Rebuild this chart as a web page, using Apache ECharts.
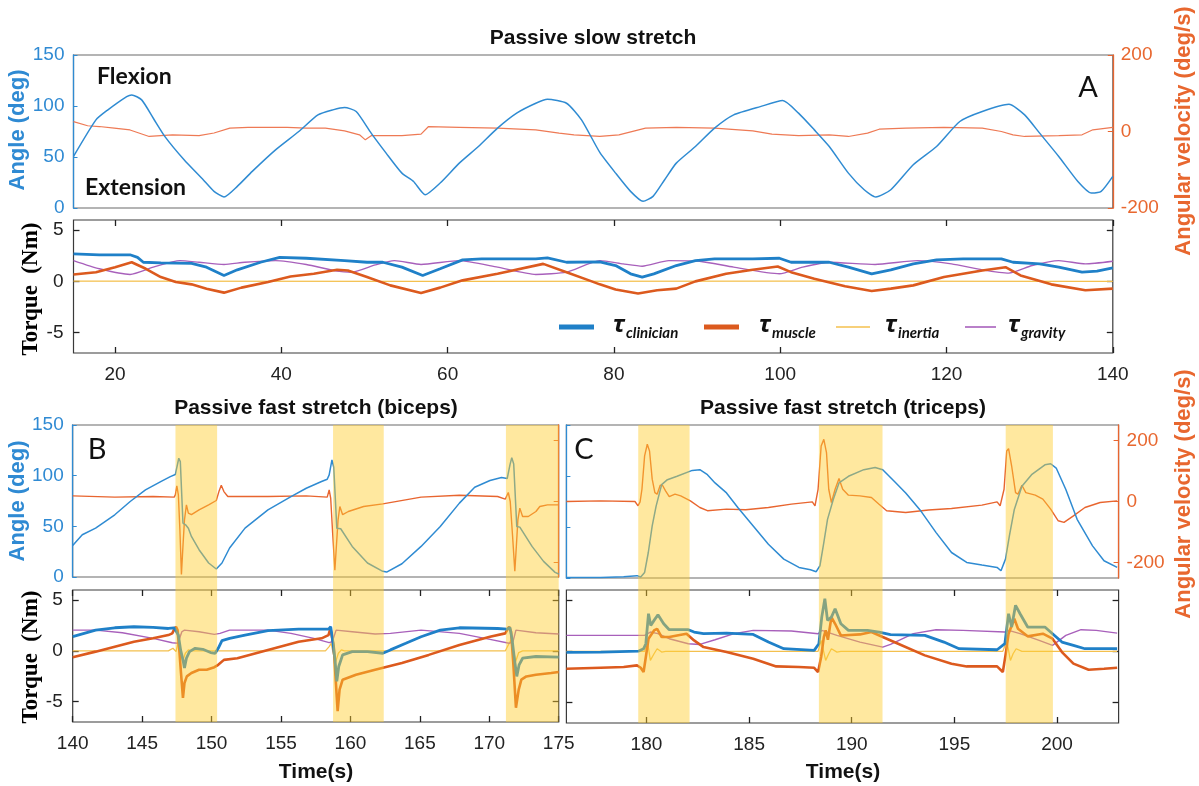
<!DOCTYPE html>
<html>
<head>
<meta charset="utf-8">
<style>
  html, body { margin: 0; padding: 0; background: #fff; }
  #chart { width: 1199px; height: 786px; }
</style>
<script src="https://cdn.jsdelivr.net/npm/echarts@6/dist/echarts.min.js"></script>
</head>
<body>
<div id="chart"></div>
<script>
// ---------- Passive slow stretch (t = 15..140 s) ----------
const slowAngle = [[15,50.5],[17.7,86.4],[19.1,96],[21.4,109.2],[22,110.9],[23.2,106],[24.6,88],[26,70],[28.3,47.3],[30.6,27.7],[31.9,16.3],[33.1,10.8],[34.7,21.2],[36.5,35.9],[39.3,57],[42.1,75],[44.4,91.3],[46.2,96.2],[47.6,98.5],[49,94.6],[50.8,73.4],[52.6,53.8],[54.5,34.2],[55.9,26],[57.3,13],[59.1,24.5],[61.4,44],[63.7,60.3],[66,78.3],[68.3,93],[70.6,102.7],[72,106.6],[74.3,102.7],[76.1,86.4],[78.3,54.5],[80.2,34.2],[82,16.3],[83.5,6.5],[84.7,11.4],[86.1,27.7],[87.5,44],[89.8,60.3],[92.1,78.3],[94.4,91.3],[97.6,99.4],[100.3,105.3],[102.2,93],[104.1,76.6],[105.9,60.3],[108.2,34.2],[110.1,17.9],[111.5,10.8],[113.3,17.9],[116,42.4],[118.8,60.3],[121.6,84.8],[124.3,94.6],[127.5,101.7],[129.4,91.3],[131.2,73.4],[133.5,50.5],[135.8,26],[137.4,14.7],[138.6,16.3],[140,31]];
const slowVelocity = [[15,26],[16.7,15],[18.1,13],[19.9,8.7],[21.8,4],[24.1,-13],[26.9,-8.7],[30.1,-11],[31.9,-4],[33.8,8.7],[36,11],[40.7,11],[43,8.7],[45.3,8.7],[47.6,1.7],[49.4,-8.7],[50.1,-21.8],[50.8,-11],[54.5,-11],[56.8,-7],[57.7,13],[61.4,11],[66,8.7],[70.6,4.4],[73.4,-4.4],[75.2,-8.7],[78.3,-13],[80.6,-8.7],[83.8,8.7],[87.5,11],[92.1,8.7],[96.7,1.7],[99,-7],[102.2,-11],[105.9,-8.7],[108.2,-13],[110.5,-4.4],[111.9,6],[115.1,8.7],[119.7,11],[124.3,8.7],[126.6,0],[128,-8.7],[129.4,-13],[133.5,-11],[136.3,-8.7],[137.6,4.4],[140,11]];
const slowClinician = [[15,2.68],[18.1,2.6],[21.8,2.6],[22.7,2.35],[23.4,1.87],[25.5,1.8],[29.2,1.77],[31,1.39],[33.1,0.58],[34.7,1.13],[37.5,1.87],[39.8,2.35],[43,2.26],[47.6,2.03],[50.3,1.87],[52.2,1.87],[54.5,1.39],[57,0.58],[59.1,1.23],[61.8,2.1],[64.1,2.2],[70.6,2.2],[72,2.29],[74.3,1.87],[78.3,1.9],[80.2,1.55],[82,0.74],[83.4,0.42],[84.8,0.74],[87.5,1.55],[89.8,2.03],[92.1,2.2],[96.7,2.2],[99.9,2.26],[101.3,1.87],[105.9,1.87],[108.2,1.39],[111,0.74],[113.3,1.13],[116,1.71],[118.8,2.1],[122,2.2],[126.6,2.2],[128,1.87],[131.2,1.71],[133.5,1.39],[136.3,0.9],[138.1,1.0],[140,1.32]];
const slowMuscle = [[15,0.68],[17.7,0.9],[20,1.39],[22,1.87],[23.7,1.23],[25.5,0.42],[27.3,-0.06],[29.2,-0.29],[31,-0.71],[33.1,-1.1],[35.2,-0.61],[38.4,-0.06],[41.1,0.48],[43.9,0.74],[46.7,1.13],[48,1.06],[50.3,0.42],[53.1,-0.39],[56.8,-1.13],[59.1,-0.61],[61.8,0.1],[66,0.74],[71.5,1.71],[74.3,0.9],[77,0.1],[78.3,-0.29],[80.2,-0.8],[82.9,-1.19],[85.2,-0.87],[87.5,-0.71],[89.8,0],[93.5,0.74],[96.7,1.13],[99.7,1.45],[101.3,0.9],[104.1,0.26],[107.8,-0.48],[111,-0.94],[113.3,-0.71],[116,-0.39],[119.7,0.42],[124.3,1.06],[127.1,1.39],[128.9,0.58],[132.6,-0.29],[136.7,-0.87],[140,-0.71]];
const slowInertia = [[15,0.02],[60,0],[100,0.02],[140,0]];
const slowGravity = [[15,2.03],[18.1,1.23],[21.8,0.68],[24.6,1.39],[27.8,2.03],[30.1,1.87],[33.1,1.65],[35.6,1.87],[39.3,2.03],[43,1.65],[46.7,1.0],[48.5,0.9],[51.3,1.61],[53.6,2.03],[56.8,1.65],[61.4,2.03],[66,1.39],[70.6,0.68],[74.3,0.9],[78.3,2.03],[81.1,1.71],[83.4,1.48],[86.6,2.03],[90.3,1.97],[94.4,1.39],[99.9,0.74],[102.7,1.39],[105.9,1.87],[111.4,1.65],[116.5,2.03],[120.6,1.71],[124.3,1.13],[127.5,0.81],[130.3,1.55],[133.5,2.03],[136.7,1.71],[140,1.97]];

// ---------- Passive fast stretch, biceps (t = 140..175 s) ----------
const bicepsAngle = [[140,31.2],[140.69,41.7],[141.65,48.2],[143.03,61.4],[144.14,74.5],[145.24,86],[146.34,94.2],[147.03,99.1],[147.39,101.1],[147.5,101.7],[147.64,117.2],[147.75,113.9],[147.94,53.2],[148.13,51.5],[148.33,48.2],[148.55,40],[149.1,26.9],[149.79,13.8],[150.34,7.9],[150.75,13.8],[151.3,28.6],[152.41,48.2],[154.06,66.3],[155.72,79.4],[156.82,87.6],[157.92,94.2],[158.33,96.5],[158.47,100.8],[158.67,115.5],[158.8,108.3],[159.02,48.2],[159.3,47.6],[160.13,30.2],[161.23,13.8],[162.33,5.6],[162.61,4.9],[163.71,13.1],[165.09,30.2],[166.47,49.9],[167.85,72.9],[168.95,88.6],[170.05,95.2],[170.88,98.1],[171.29,97.1],[171.49,110.6],[171.62,117.8],[171.76,111.6],[171.98,49.9],[172.2,49.2],[173.08,30.2],[173.91,15.4],[174.74,4.6],[175,3]];
const bicepsVelocity = [[140,17],[143.03,12.6],[145.79,14.8],[147.31,12.6],[147.39,20],[147.5,49.8],[147.61,20],[147.72,-94.6],[147.83,-242],[147.94,-149],[148.05,-62],[148.19,-12.6],[148.33,-40],[148.55,-45],[149.1,-29],[149.79,-12.6],[150.34,1.6],[150.53,31],[150.7,52],[150.89,31],[151.17,14.8],[154.06,14.8],[156.82,17],[158.33,12.6],[158.47,36.6],[158.58,9.3],[158.72,-105],[158.88,-228],[158.99,-149],[159.11,-62],[159.24,-18],[159.44,-45],[159.85,-34.5],[160.95,-18],[162.33,-9.3],[165.09,12.6],[167.85,19],[170.6,14.8],[171.15,6],[171.37,28],[171.51,-1.6],[171.68,-117],[171.84,-231],[171.95,-149],[172.06,-62],[172.2,-23.5],[172.4,-51],[172.81,-51],[173.36,-34.5],[173.64,-18],[174.19,-12.6],[175,-12.6]];
const bicepsClinician = [[140,1.4],[141.65,2.05],[143.03,2.28],[144.41,2.38],[145.79,2.31],[146.89,2.21],[147.31,2.28],[147.44,2.44],[147.61,1.56],[147.77,0.1],[147.94,-0.88],[148.05,-1.69],[148.19,-0.72],[148.41,-0.07],[148.82,0.26],[149.37,0.16],[149.93,-0.16],[150.26,-0.23],[150.48,0.26],[150.75,1.01],[151.3,1.24],[152.41,1.56],[154.06,1.99],[156.27,2.15],[158.42,2.15],[158.58,2.38],[158.75,0.75],[158.89,-0.88],[159.02,-3.0],[159.16,-1.53],[159.44,-0.39],[160.13,-0.07],[161.23,-0.07],[162.33,-0.23],[162.88,0.1],[163.99,0.75],[165.09,1.4],[166.47,2.05],[167.85,2.28],[170.6,2.21],[171.29,2.15],[171.49,2.31],[171.65,1.07],[171.82,-0.88],[171.98,-2.51],[172.15,-1.37],[172.4,-0.72],[173.36,-0.55],[175,-0.62]];
const bicepsMuscle = [[140,-0.62],[141.65,-0.07],[143.03,0.42],[144.41,0.91],[145.79,1.24],[146.89,1.56],[147.17,1.73],[147.31,2.12],[147.44,2.38],[147.55,2.05],[147.66,0.42],[147.8,-2.18],[147.94,-4.63],[148.05,-3.16],[148.22,-2.51],[148.55,-2.18],[149.1,-1.86],[149.65,-1.86],[150.2,-1.6],[150.48,-1.37],[150.89,-0.88],[151.86,-0.72],[154.06,0.1],[156.27,0.91],[157.92,1.24],[158.42,1.56],[158.56,2.21],[158.67,2.38],[158.8,0.42],[158.94,-2.83],[159.08,-5.93],[159.22,-3.81],[159.44,-2.83],[160.4,-2.35],[161.78,-1.86],[163.71,-1.2],[165.64,-0.39],[167.85,0.59],[170.05,1.4],[171.15,1.73],[171.32,2.12],[171.43,2.38],[171.57,1.89],[171.73,-1.2],[171.92,-5.6],[172.12,-3.81],[172.31,-2.83],[172.67,-2.51],[173.36,-2.35],[174.46,-2.18],[175,-2.08]];
const bicepsInertia = [[140,0],[146.89,0],[147.22,0.26],[147.44,-0.07],[147.61,0.91],[147.77,0.26],[147.91,-1.04],[148.11,-0.23],[148.33,0.1],[148.55,0],[158.2,0],[158.47,0.42],[158.61,0.75],[158.75,0.91],[158.91,-1.2],[159.13,-0.23],[159.35,0.1],[159.57,0],[171.15,0],[171.37,0.59],[171.57,1.07],[171.76,-0.07],[171.9,-1.04],[172.12,-0.16],[172.4,0],[175,0]];
const bicepsGravity = [[140,2.05],[141.65,2.05],[143.58,1.79],[145.79,1.24],[147.17,0.81],[147.58,0.75],[147.86,1.89],[148.05,2.05],[149.1,1.89],[150.2,1.63],[150.61,1.73],[151.3,2.05],[154.06,2.05],[155.72,1.73],[157.37,1.24],[158.47,0.81],[158.69,0.91],[158.97,2.05],[160.13,1.89],[161.78,1.66],[162.88,1.73],[165.09,2.05],[167.85,1.73],[170.05,1.14],[171.43,0.75],[171.71,0.91],[171.92,2.05],[173.36,1.79],[175,1.66]];
const bicepsStretch = [[147.4,150.4],[158.75,162.4],[171.2,175]];

// ---------- Passive fast stretch, triceps (t = 176..203 s) ----------
const tricepsAngle = [[176.1,0.5],[177.77,0.6],[178.89,1.3],[179.54,2.3],[179.72,1],[179.91,5.5],[180.09,25],[180.28,51],[180.47,70.5],[180.74,91.6],[181.02,96.4],[181.49,99.7],[182.23,105.5],[182.6,106.2],[182.97,101.3],[183.34,93.2],[183.9,83.4],[184.46,68.8],[185.2,51],[185.94,33.1],[186.69,18.5],[187.43,10.4],[187.99,8.1],[188.27,6.2],[188.45,12],[188.64,34.7],[188.82,57.5],[189.1,77],[189.38,93.2],[189.84,99.7],[190.59,106.2],[191.14,108.4],[191.51,106.2],[192.07,94.8],[192.63,83.4],[193.37,65.6],[194.11,44.5],[194.86,25],[195.6,15.3],[196.34,12.7],[197.08,10.4],[197.27,7.1],[197.49,18.5],[197.68,41.2],[197.92,67.2],[198.29,89.9],[198.76,101.3],[199.41,111],[199.69,112],[199.96,107.8],[200.43,86.7],[200.98,57.5],[201.73,31.5],[202.29,16.9],[202.93,10.4]];
const tricepsVelocity = [[176.1,0],[177.77,2.2],[179.44,0],[179.59,-14],[179.69,-1],[179.78,40],[179.91,149],[180.04,187],[180.15,165],[180.28,73],[180.41,29],[180.52,24],[180.67,53],[180.78,53],[180.93,35],[181.11,16],[181.39,24],[181.67,18.5],[182.14,2.2],[182.6,-19.6],[182.97,-30],[183.9,-25],[184.83,-27],[185.94,-19.6],[187.06,-8.7],[188.08,-1.1],[188.21,-14],[188.36,40],[188.51,181],[188.64,203],[188.77,160],[188.88,40],[189.01,-3.3],[189.19,40],[189.38,75],[189.56,40],[189.84,20.7],[190.4,18.5],[190.96,13],[191.33,-8.7],[191.7,-30],[192.63,-36],[193.74,-28],[194.86,-23],[196.34,-12],[197.08,-1.1],[197.23,-14],[197.42,40],[197.55,165],[197.64,173],[197.79,116],[197.98,29],[198.1,24],[198.29,53],[198.48,29],[198.94,20.7],[199.31,7.6],[199.69,-25],[200.06,-63],[200.34,-68],[200.8,-47],[201.36,-19.6],[202.1,-3.3],[202.93,2.2]];
const tricepsClinician = [[176.1,-0.1],[177.77,-0.07],[179.63,0.03],[179.86,0.26],[179.97,0.75],[180.1,3.68],[180.21,2.54],[180.37,3.03],[180.56,3.58],[180.84,2.7],[181.11,2.12],[182.04,2.12],[182.32,1.89],[182.78,1.73],[183.9,1.79],[185.2,1.66],[185.94,0.91],[186.69,0.26],[188.17,0.1],[188.4,0.75],[188.54,3.35],[188.69,5.15],[188.82,3.03],[189.01,3.35],[189.19,4.17],[189.47,2.7],[189.84,2.05],[190.77,2.05],[191.33,1.89],[191.89,1.63],[193.56,1.56],[194.49,0.91],[195.23,0.26],[197.08,0.16],[197.46,0.75],[197.64,3.68],[197.79,2.38],[197.98,4.5],[198.2,3.68],[198.57,2.38],[199.41,2.38],[199.78,1.73],[200.24,0.91],[200.8,0.59],[201.36,0.26],[202.93,0.26]];
const tricepsMuscle = [[176.1,-1.7],[177.77,-1.6],[178.89,-1.53],[179.54,-1.37],[179.72,-1.6],[179.86,-2.02],[179.97,-0.55],[180.1,1.24],[180.19,1.07],[180.37,2.05],[180.52,2.21],[180.74,1.4],[181.11,1.4],[181.49,1.56],[181.95,1.73],[182.32,1.07],[182.78,0.42],[183.9,-0.07],[185.2,-0.72],[186.32,-1.47],[187.43,-1.53],[188.17,-1.6],[188.36,-2.02],[188.51,-0.55],[188.64,1.4],[188.73,2.05],[188.84,1.14],[189.01,3.35],[189.19,2.7],[189.47,1.56],[190.4,1.66],[190.96,1.89],[191.51,1.4],[192.26,0.75],[193.56,-0.39],[194.86,-1.2],[195.6,-1.47],[197.08,-1.47],[197.36,-2.02],[197.49,-0.39],[197.64,1.73],[197.92,3.19],[198.1,2.21],[198.57,1.47],[199.31,1.73],[199.78,1.24],[200.24,-0.07],[200.8,-1.2],[201.54,-1.79],[202.29,-1.69],[202.93,-1.6]];
const tricepsInertia = [[176.1,0],[179.91,0],[180.04,1.07],[180.19,-0.88],[180.37,-0.23],[180.52,0.26],[180.74,-0.07],[180.93,0],[188.36,0],[188.51,1.07],[188.73,-0.88],[188.88,-0.23],[189.01,0.26],[189.28,-0.07],[189.47,0],[197.36,0],[197.55,1.07],[197.73,-0.88],[197.86,-0.23],[198.01,0.26],[198.29,0],[202.93,0]];
const tricepsGravity = [[176.1,1.56],[177.77,1.56],[179.91,1.56],[180.19,1.89],[180.56,1.73],[181.11,1.24],[182.04,0.75],[182.6,0.68],[183.34,1.14],[184.27,1.73],[185.2,2.05],[187.06,1.99],[188.36,1.73],[188.54,2.05],[189.28,1.56],[190.4,0.91],[191.51,0.42],[191.89,0.68],[193.0,1.73],[194.11,2.12],[195.42,2.05],[197.46,1.89],[197.64,2.05],[198.2,1.73],[199.13,1.07],[199.78,0.59],[200.43,1.56],[201.17,2.12],[201.91,2.05],[202.93,1.79]];
const tricepsStretch = [[179.6,182.1],[188.4,191.5],[197.5,199.8]];

// ---------- axis ticks ----------
const slowTimeTicks = [20, 40, 60, 80, 100, 120, 140];
const bicepsTimeTicks = [140, 145, 150, 155, 160, 165, 170, 175];
const tricepsTimeTicks = [180, 185, 190, 195, 200];
const angleTicks = [0, 50, 100, 150];
const torqueTicks = [-5, 0, 5];
const velocityTicks = [-200, 0, 200];

// ---------- styling ----------
const C = {
  angle: '#2f8bd2', angleText: '#2f8ad3',
  velSlow: '#ee7a55', vel: '#e8652f', velText: '#e8672f',
  clin: '#1f80c8', musc: '#dc5a1e', inert: '#f4c04e', grav: '#a860bb',
  band: 'rgba(255, 204, 45, 0.46)'
};
const SANS = '"Liberation Sans", Arial, sans-serif';

const grids = [
  { left: 73.5, top: 55,  width: 1039.3, height: 153 },  // slow angle
  { left: 73.5, top: 220, width: 1039.3, height: 133 },  // slow torque
  { left: 72.7, top: 425, width: 486,    height: 152 },  // biceps angle
  { left: 72.7, top: 590, width: 486,    height: 132 },  // biceps torque
  { left: 566.4, top: 425, width: 552.2, height: 153 },  // triceps angle
  { left: 566.4, top: 590, width: 552.2, height: 133 }   // triceps torque
].map((g, i) => Object.assign({
  show: true, borderWidth: 1.2,
  borderColor: (i % 2 === 0) ? '#6b6b6b' : '#3a3a3a',
  backgroundColor: 'transparent', containLabel: false
}, g));

const hiddenX = (grid, min, max) => ({
  type: 'value', gridIndex: grid, min, max,
  axisLine: { show: false, onZero: false }, axisTick: { show: false },
  axisLabel: { show: false }, splitLine: { show: false }
});
const tickX = (grid, min, max, ticks, pos, labels) => ({
  type: 'value', gridIndex: grid, min, max, position: pos,
  axisLine: { show: false, onZero: false },
  axisTick: { show: true, inside: true, length: 6, customValues: ticks,
              lineStyle: { color: '#222', width: 1.3 } },
  axisLabel: { show: labels, customValues: ticks, color: '#222',
               fontFamily: SANS, fontSize: 19, margin: 12 },
  splitLine: { show: false }
});
const torqueY = (grid, pos, labels) => ({
  type: 'value', gridIndex: grid, min: -7, max: 6, position: pos,
  axisLine: { show: false, onZero: false },
  axisTick: { show: true, inside: true, length: 6, customValues: torqueTicks,
              lineStyle: { color: '#222', width: 1.3 } },
  axisLabel: { show: labels, customValues: torqueTicks, color: '#222',
               fontFamily: SANS, fontSize: 19, margin: 10 },
  splitLine: { show: false }
});
const angleY = (grid, labels) => ({
  type: 'value', gridIndex: grid, min: 0, max: 150, position: 'left',
  axisLine: { show: true, onZero: false, lineStyle: { color: C.angle, width: 1.3 } },
  axisTick: { show: true, inside: true, length: 4, customValues: angleTicks,
              lineStyle: { color: C.angle } },
  axisLabel: { show: labels, customValues: angleTicks, color: C.angleText,
               fontFamily: SANS, fontSize: 19, margin: 9 },
  splitLine: { show: false }
});
const velY = (grid, range, labels) => ({
  type: 'value', gridIndex: grid, min: -range, max: range, position: 'right',
  axisLine: { show: true, onZero: false, lineStyle: { color: C.vel, width: 1.3 } },
  axisTick: { show: true, inside: true, length: 5, customValues: velocityTicks,
              lineStyle: { color: C.vel } },
  axisLabel: { show: labels, customValues: velocityTicks, color: C.velText,
               fontFamily: SANS, fontSize: 19, margin: 8 },
  splitLine: { show: false }
});

const xAxis = [
  hiddenX(0, 15, 140),
  tickX(1, 15, 140, slowTimeTicks, 'bottom', true),
  tickX(1, 15, 140, slowTimeTicks, 'top', false),
  hiddenX(2, 140, 175),
  tickX(3, 140, 175, bicepsTimeTicks, 'bottom', true),
  tickX(3, 140, 175, bicepsTimeTicks, 'top', false),
  hiddenX(4, 176.1, 203),
  tickX(5, 176.1, 203, tricepsTimeTicks, 'bottom', true),
  tickX(5, 176.1, 203, tricepsTimeTicks, 'top', false)
];
const yAxis = [
  angleY(0, true), velY(0, 200, true),
  torqueY(1, 'left', true), torqueY(1, 'right', false),
  angleY(2, true), velY(2, 250, false),
  torqueY(3, 'left', true), torqueY(3, 'right', false),
  angleY(4, false), velY(4, 250, true),
  torqueY(5, 'left', false), torqueY(5, 'right', false)
];

const line = (data, x, y, color, width, smooth) => ({
  type: 'line', data, xAxisIndex: x, yAxisIndex: y,
  showSymbol: false, symbol: 'none', silent: true, z: 2,
  smooth: smooth || false,
  lineStyle: { color, width }
});

// stretch windows span the angle and torque panels of one column
const bandRise = 590 - 425;
const bandSeries = (data, x, y) => ({
  type: 'custom', data, xAxisIndex: x, yAxisIndex: y, z: 10, silent: true, clip: false,
  encode: { x: [0, 1] },
  renderItem: (params, api) => {
    const cs = params.coordSys;
    const x0 = api.coord([api.value(0), 0])[0];
    const x1 = api.coord([api.value(1), 0])[0];
    return {
      type: 'rect',
      shape: { x: x0, y: cs.y - bandRise, width: x1 - x0, height: cs.height + bandRise },
      style: { fill: C.band }
    };
  }
});

const series = [
  line(slowVelocity, 0, 1, C.velSlow, 1.2),
  line(slowAngle, 0, 0, C.angle, 1.5, 0.2),
  line(slowInertia, 1, 2, C.inert, 1.3),
  line(slowGravity, 1, 2, C.grav, 1.4, 0.2),
  line(slowMuscle, 1, 2, C.musc, 2.6),
  line(slowClinician, 1, 2, C.clin, 2.8),

  line(bicepsVelocity, 3, 5, C.vel, 1.4),
  line(bicepsAngle, 3, 4, C.angle, 1.5),
  line(bicepsInertia, 4, 6, C.inert, 1.3),
  line(bicepsGravity, 4, 6, C.grav, 1.4),
  line(bicepsMuscle, 4, 6, C.musc, 2.6),
  line(bicepsClinician, 4, 6, C.clin, 2.8),
  bandSeries(bicepsStretch, 4, 6),

  line(tricepsVelocity, 6, 9, C.vel, 1.4),
  line(tricepsAngle, 6, 8, C.angle, 1.5),
  line(tricepsInertia, 7, 10, C.inert, 1.3),
  line(tricepsGravity, 7, 10, C.grav, 1.4),
  line(tricepsMuscle, 7, 10, C.musc, 2.6),
  line(tricepsClinician, 7, 10, C.clin, 2.8),
  bandSeries(tricepsStretch, 7, 10)
];

// ---------- text annotations and legend ----------
const txt = (text, x, y, opts) => ({
  type: 'text', x, y, rotation: (opts && opts.rot) || 0, z: 100, silent: true,
  style: Object.assign({
    text, fill: '#111', fontFamily: SANS, fontSize: 21, fontWeight: 'bold',
    align: 'center', verticalAlign: 'middle',
    textAlign: 'center', textVerticalAlign: 'middle'
  }, (opts && opts.style) || {})
});
const rot = Math.PI / 2;
const LATO = 'Lato, "Open Sans", sans-serif';
const SERIF = '"Liberation Serif", "Times New Roman", serif';

const legendItems = [
  { sub: 'clinician', color: C.clin, w: 5,   x0: 559, x1: 594, tx: 613 },
  { sub: 'muscle',    color: C.musc, w: 5,   x0: 704, x1: 739, tx: 759 },
  { sub: 'inertia',   color: C.inert, w: 1.6, x0: 836, x1: 870, tx: 885 },
  { sub: 'gravity',   color: C.grav, w: 1.6, x0: 965, x1: 996, tx: 1008 }
];
const legendY = 327;
const legendGraphics = [];
legendItems.forEach(it => {
  legendGraphics.push({
    type: 'line', z: 100, silent: true,
    shape: { x1: it.x0, y1: legendY, x2: it.x1, y2: legendY },
    style: { stroke: it.color, lineWidth: it.w }
  });
  legendGraphics.push(txt('τ', it.tx, legendY - 2, { style: {
    align: 'left', textAlign: 'left', fontFamily: '"Noto Sans", "DejaVu Sans", sans-serif',
    fontStyle: 'italic', fontWeight: 'bold', fontSize: 24, fill: '#111' } }));
  legendGraphics.push(txt(it.sub, it.tx + 13, legendY + 6, { style: {
    align: 'left', textAlign: 'left', fontFamily: LATO,
    fontStyle: 'italic', fontWeight: 'bold', fontSize: 15, fill: '#111' } }));
});

const graphic = [
  txt('Passive slow stretch', 593, 38),
  txt('Passive fast stretch (biceps)', 316, 408),
  txt('Passive fast stretch (triceps)', 843, 408),
  txt('Time(s)', 316, 772),
  txt('Time(s)', 843, 772),
  txt('Angle (deg)', 18, 130, { rot, style: { fill: C.angleText, fontSize: 22 } }),
  txt('Angle (deg)', 18, 501, { rot, style: { fill: C.angleText, fontSize: 22 } }),
  txt('Torque  (Nm)', 31, 289, { rot, style: { fontFamily: SERIF, fontSize: 23, fill: '#000' } }),
  txt('Torque  (Nm)', 31, 657, { rot, style: { fontFamily: SERIF, fontSize: 23, fill: '#000' } }),
  txt('Angular velocity (deg/s)', 1184, 131, { rot, style: { fill: C.velText, fontSize: 22 } }),
  txt('Angular velocity (deg/s)', 1184, 494, { rot, style: { fill: C.velText, fontSize: 22 } }),
  txt('Flexion', 97, 77, { style: { align: 'left', textAlign: 'left', fontFamily: LATO, fontSize: 23 } }),
  txt('Extension', 85, 188, { style: { align: 'left', textAlign: 'left', fontFamily: LATO, fontSize: 23 } }),
  txt('A', 1088, 88, { style: { fontFamily: LATO, fontWeight: 'normal', fontSize: 29 } }),
  txt('B', 97, 450, { style: { fontFamily: LATO, fontWeight: 'normal', fontSize: 29 } }),
  txt('C', 584, 450, { style: { fontFamily: LATO, fontWeight: 'normal', fontSize: 29 } })
].concat(legendGraphics);

const chart = echarts.init(document.getElementById('chart'), null, { renderer: 'canvas' });
chart.setOption({
  animation: false,
  backgroundColor: '#ffffff',
  grid: grids,
  xAxis, yAxis, series, graphic
});
</script>
</body>
</html>
